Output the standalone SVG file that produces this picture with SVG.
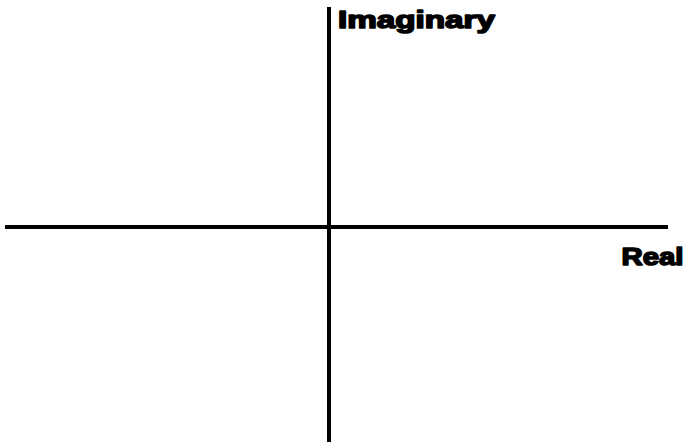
<svg xmlns="http://www.w3.org/2000/svg" width="688" height="442" viewBox="0 0 688 442">
<style>
.axis{stroke:#000;stroke-width:4;fill:none}
.lbl{font-family:"Liberation Sans",Arial,sans-serif;font-weight:bold;font-size:24.5px;fill:#000;stroke:#000;stroke-width:1.6;stroke-linejoin:round}
</style>
<rect width="688" height="442" fill="#fff"/>
<g id="connectors">
<line class="axis" x1="5" y1="227" x2="668" y2="227"/>
<line class="axis" x1="329" y1="7" x2="329" y2="442"/>
</g>
<g id="imaginary-label"><text class="lbl" x="338" y="27.8" textLength="157" lengthAdjust="spacingAndGlyphs">Imaginary</text></g>
<g id="real-label"><text class="lbl" x="621.5" y="264.6" textLength="62" lengthAdjust="spacingAndGlyphs">Real</text></g>
</svg>
